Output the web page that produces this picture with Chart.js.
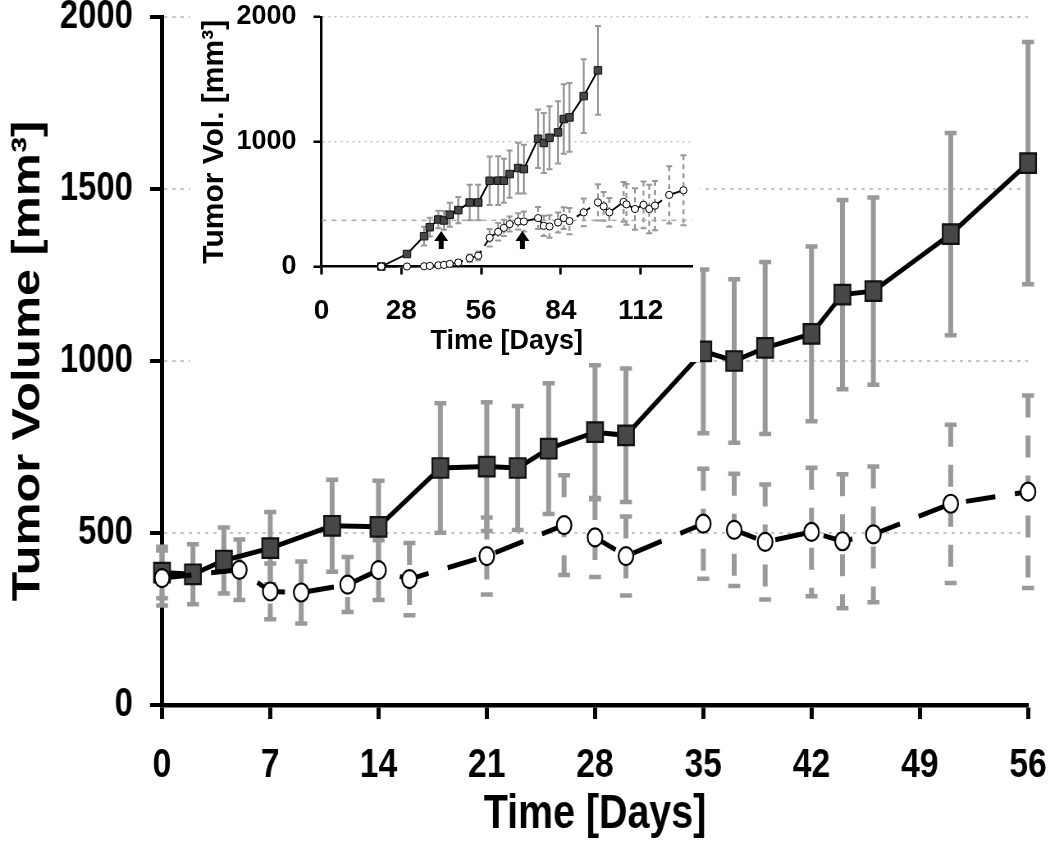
<!DOCTYPE html>
<html>
<head>
<meta charset="utf-8">
<script src="https://cdn.jsdelivr.net/npm/chart.js@4.4.1/dist/chart.umd.min.js"></script>
<style>
  body { margin: 0; background: #fff; }
  #wrap { position: relative; width: 1050px; height: 845px; }
  /* the original figure is squeezed sideways, so the main plot is drawn wider and scaled down */
  #main { position: absolute; left: 0; top: 0; width: 1050px; height: 845px; }
  #inset { position: absolute; left: 190px; top: 0; background: #fff; }
</style>
</head>
<body>
<div id="wrap">
  <canvas id="main" width="1280" height="845" style="width:1050px;height:845px"></canvas>
  <canvas id="inset" width="510" height="362"></canvas>
</div>
<script>
// main plot, days after start of treatment
const squareDays = [0, 2, 4, 7, 11, 14, 18, 21, 23, 25, 28, 30, 35, 37, 39, 42, 44, 46, 51, 56];
const squareMean = [385, 380, 420, 456, 521, 518, 689, 693, 689, 745, 793, 784, 1028, 1000, 1038, 1079, 1193, 1203, 1369, 1575];
const squareErr  = [75, 87, 96, 105, 134, 134, 188, 187, 180, 190, 195, 194, 238, 238, 250, 254, 275, 272, 294, 352];

const circleDays = [0, 5, 7, 9, 12, 14, 16, 21, 26, 28, 30, 35, 37, 39, 42, 44, 46, 51, 56];
const circleMean = [369, 393, 330, 327, 350, 392, 366, 433, 523, 487, 433, 527, 509, 474, 503, 476, 496, 585, 620];
const circleErr  = [80, 88, 81, 90, 80, 87, 105, 112, 145, 115, 115, 160, 163, 167, 187, 195, 197, 230, 280];

const mainXTicks = [0, 7, 14, 21, 28, 35, 42, 49, 56];

// inset: whole time course
const insetSquareDays = [21, 30, 36, 38, 41, 43, 45, 48, 52, 55, 59, 62, 64, 66, 69, 71, 76, 78, 80, 83, 85, 87, 92, 97];
const insetSquareMean = [0, 100, 243, 315, 377, 369, 415, 452, 513, 513, 687, 688, 688, 741, 789, 781, 1024, 990, 1032, 1075, 1182, 1195, 1366, 1572];
const insetSquareErr  = [0, 20, 75, 75, 70, 75, 96, 105, 142, 142, 195, 195, 176, 189, 203, 195, 235, 240, 252, 250, 278, 276, 295, 356];

const insetCircleDays = [21, 30, 36, 38, 41, 43, 45, 48, 52, 55, 59, 62, 64, 66, 69, 71, 76, 78, 80, 83, 85, 87, 92, 97, 99, 101, 106, 107, 110, 113, 115, 117, 122, 127];
const insetCircleMean = [0, 0, 2, 5, 10, 13, 21, 32, 67, 86, 230, 278, 310, 340, 361, 361, 388, 326, 321, 353, 388, 364, 434, 514, 482, 434, 518, 498, 461, 494, 461, 488, 574, 611];
const insetCircleErr  = [0, 0, 5, 8, 10, 12, 15, 20, 30, 35, 70, 70, 65, 60, 65, 80, 88, 81, 90, 80, 87, 105, 112, 145, 115, 115, 160, 163, 167, 187, 195, 197, 230, 280];

const insetXTicks = [0, 28, 56, 84, 112];
const insetRefLevel = 370;
const arrowDays = [42, 70.5];

const toPts = (xs, ys) => xs.map((x, i) => ({ x, y: ys[i] }));

const arial = "'Liberation Sans', Arial, sans-serif";
const plain = v => String(v);

// gray error bars, drawn under the markers
const errorBars = {
  id: 'errorBars',
  beforeDatasetsDraw(chart, args, opts) {
    const { ctx, scales: { x, y } } = chart;
    ctx.save();
    ctx.strokeStyle = opts.color || '#999';
    chart.data.datasets.forEach(ds => {
      if (!ds.errors) return;
      ds.data.forEach((p, j) => {
        const e = ds.errors[j];
        if (!e) return;
        const px = x.getPixelForValue(p.x);
        const top = y.getPixelForValue(p.y + e);
        const bot = y.getPixelForValue(p.y - e);
        ctx.lineWidth = opts.width;
        ctx.setLineDash(ds.errDash || []);
        ctx.beginPath();
        ctx.moveTo(px, top);
        ctx.lineTo(px, bot);
        ctx.stroke();
        ctx.setLineDash([]);
        ctx.lineWidth = opts.capWidth;
        ctx.beginPath();
        ctx.moveTo(px - opts.cap, top);
        ctx.lineTo(px + opts.cap, top);
        ctx.moveTo(px - opts.cap, bot);
        ctx.lineTo(px + opts.cap, bot);
        ctx.stroke();
      });
    });
    ctx.restore();
  }
};

// treatment arrows in the inset
const arrows = {
  id: 'arrows',
  afterDatasetsDraw(chart, args, opts) {
    if (!opts.days) return;
    const { ctx, scales: { x, y } } = chart;
    ctx.save();
    ctx.fillStyle = '#000';
    opts.days.forEach(d => {
      const px = x.getPixelForValue(d);
      const tip = y.getPixelForValue(opts.to);
      const base = y.getPixelForValue(opts.from);
      ctx.fillRect(px - 2.5, tip + 8, 5, base - tip - 8);
      ctx.beginPath();
      ctx.moveTo(px, tip);
      ctx.lineTo(px - 7, tip + 10);
      ctx.lineTo(px + 7, tip + 10);
      ctx.closePath();
      ctx.fill();
    });
    ctx.restore();
  }
};

function fixBox(width, height) {
  return scale => {
    if (width != null) scale.width = width;
    if (height != null) scale.height = height;
    scale.paddingTop = 0;
    scale.paddingBottom = 0;
    scale.paddingLeft = 0;
    scale.paddingRight = 0;
  };
}

new Chart(document.getElementById('main'), {
  type: 'line',
  data: {
    datasets: [
      {
        label: 'open',
        data: toPts(circleDays, circleMean),
        errors: circleErr,
        errDash: [22, 18],
        borderColor: '#000',
        borderWidth: 5,
        borderDash: [36, 24],
        pointStyle: 'circle',
        pointRadius: 9,
        pointBackgroundColor: '#fff',
        pointBorderColor: '#000',
        pointBorderWidth: 2.2,
        clip: false
      },
      {
        label: 'filled',
        data: toPts(squareDays, squareMean),
        errors: squareErr,
        borderColor: '#000',
        borderWidth: 5,
        pointStyle: 'rect',
        pointRadius: 13.8,
        pointBackgroundColor: '#474747',
        pointBorderColor: '#111',
        pointBorderWidth: 2.2,
        clip: false
      }
    ]
  },
  options: {
    responsive: false,
    animation: false,
    devicePixelRatio: 1,
    layout: { padding: { top: 17, right: 26.8, left: 0, bottom: 0 } },
    plugins: {
      legend: { display: false },
      tooltip: { enabled: false },
      errorBars: { width: 6, capWidth: 4.5, cap: 7.3, color: '#999' }
    },
    scales: {
      x: {
        type: 'linear',
        min: 0,
        max: 56,
        afterBuildTicks: s => { s.ticks = mainXTicks.map(v => ({ value: v })); },
        afterFit: fixBox(null, 140),
        grid: { drawOnChartArea: false, tickColor: '#000', tickWidth: 5, tickLength: 14 },
        border: { color: '#000', width: 4.5 },
        ticks: { color: '#000', padding: 22, maxRotation: 0, callback: plain, font: { family: arial, weight: 'bold', size: 41 } },
        title: { display: true, text: 'Time [Days]', color: '#000', padding: { top: 0, bottom: 1.5 }, font: { family: arial, weight: 'bold', size: 48 } }
      },
      y: {
        min: 0,
        max: 2000,
        ticks: { stepSize: 500, color: '#000', padding: 20.8, callback: plain, font: { family: arial, weight: 'bold', size: 40 } },
        afterFit: fixBox(197.5, null),
        grid: {
          color: c => (c.tick && c.tick.value === 0 ? 'rgba(0,0,0,0)' : '#c4c4c4'),
          lineWidth: 2,
          tickColor: '#000',
          tickWidth: 4,
          tickLength: 14.6
        },
        border: { color: '#000', width: 5, dash: [4, 6] },
        title: { display: true, text: 'Tumor Volume [mm³]', color: '#000', padding: { top: 5.5, bottom: 0 }, font: { family: arial, weight: 'bold', size: 48.5 } }
      }
    }
  },
  plugins: [errorBars]
});

new Chart(document.getElementById('inset'), {
  type: 'line',
  data: {
    datasets: [
      {
        label: 'open',
        data: toPts(insetCircleDays, insetCircleMean),
        errors: insetCircleErr,
        errDash: [5, 4],
        borderColor: '#000',
        borderWidth: 1.8,
        borderDash: [16, 6],
        pointStyle: 'circle',
        pointRadius: 3.6,
        pointBackgroundColor: '#fff',
        pointBorderColor: '#000',
        pointBorderWidth: 1,
        clip: false
      },
      {
        label: 'filled',
        data: toPts(insetSquareDays, insetSquareMean),
        errors: insetSquareErr,
        borderColor: '#000',
        borderWidth: 1.8,
        pointStyle: 'rect',
        pointRadius: 5.3,
        pointBackgroundColor: '#474747',
        pointBorderColor: '#111',
        pointBorderWidth: 1,
        clip: false
      },
      {
        label: 'start',
        data: [{ x: 0, y: insetRefLevel }, { x: 130, y: insetRefLevel }],
        borderColor: '#aaa',
        borderWidth: 1.5,
        borderDash: [5, 5],
        pointRadius: 0
      }
    ]
  },
  options: {
    responsive: false,
    animation: false,
    devicePixelRatio: 1,
    layout: { padding: { top: 17, right: 8, left: 0, bottom: 0 } },
    plugins: {
      legend: { display: false },
      tooltip: { enabled: false },
      errorBars: { width: 2, capWidth: 2, cap: 3, color: '#999' },
      arrows: { days: arrowDays, from: 140, to: 285 }
    },
    scales: {
      x: {
        type: 'linear',
        min: 0,
        max: 130,
        afterBuildTicks: s => { s.ticks = insetXTicks.map(v => ({ value: v })); },
        afterFit: fixBox(null, 95.5),
        grid: { drawOnChartArea: false, tickColor: '#000', tickWidth: 2.5, tickLength: 8 },
        border: { color: '#000', width: 2.5 },
        ticks: { color: '#000', padding: 20, maxRotation: 0, callback: plain, font: { family: arial, weight: 'bold', size: 28 } },
        title: { display: true, text: 'Time [Days]', color: '#000', padding: { top: 0, bottom: 4 }, font: { family: arial, weight: 'bold', size: 27 } }
      },
      y: {
        min: 0,
        max: 2000,
        ticks: { stepSize: 1000, color: '#000', padding: 17, callback: plain, font: { family: arial, weight: 'bold', size: 27 } },
        afterFit: fixBox(131.5, null),
        grid: {
          color: c => (c.tick && c.tick.value === 0 ? 'rgba(0,0,0,0)' : '#c4c4c4'),
          lineWidth: 1.5,
          tickColor: '#000',
          tickWidth: 2.5,
          tickLength: 8
        },
        border: { color: '#000', width: 2.5, dash: [2, 4] },
        title: { display: true, text: 'Tumor Vol. [mm³]', color: '#000', padding: { top: 7, bottom: 0 }, font: { family: arial, weight: 'bold', size: 30 } }
      }
    }
  },
  plugins: [errorBars, arrows]
});
</script>
</body>
</html>
